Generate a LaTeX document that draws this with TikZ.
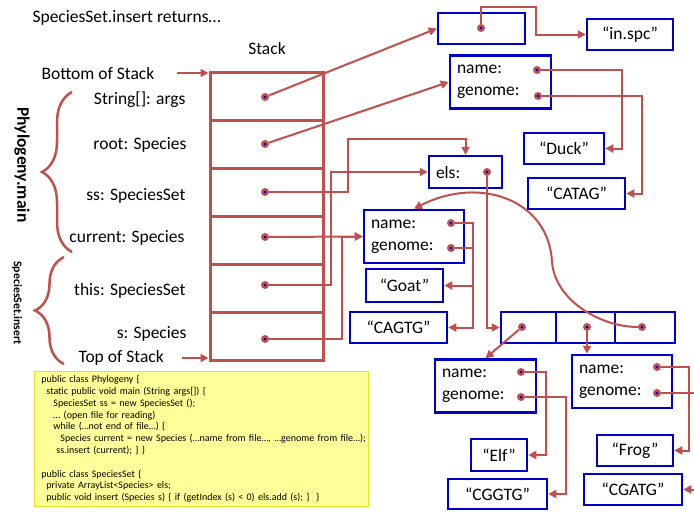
\documentclass[tikz,border=0pt]{standalone}
\usepackage{fontspec}
\setmainfont{Carlito}
\usetikzlibrary{arrows.meta,decorations.pathreplacing}

\definecolor{linkred}{RGB}{192,80,77}
\definecolor{objblue}{RGB}{0,0,204}
\definecolor{codefill}{RGB}{255,255,153}
\definecolor{codeedge}{RGB}{225,225,40}

\tikzset{
  stackcell/.style={rectangle, draw=linkred, line width=3pt, minimum width=113pt, minimum height=48pt},
  objbox/.style={rectangle, draw=objblue, line width=2.5pt, minimum height=31pt, inner sep=0pt},
  fieldbox/.style={rectangle, draw=objblue, line width=2.5pt, align=left, inner xsep=7pt, inner ysep=0pt, minimum height=53pt},
  ptr/.style={circle, fill=linkred, inner sep=0pt, minimum size=8pt,
    path picture={\fill[objblue] (path picture bounding box.center) circle (1.5pt);}},
  ref/.style={draw=linkred, line width=2pt, -{Triangle[length=8pt,width=8pt]}},
  stackbrace/.style={draw=linkred, line width=2.5pt, decorate, decoration={brace, amplitude=#1}},
  varlbl/.style={anchor=east}
}

\begin{document}
\begin{tikzpicture}[x=1pt, y=-1pt, font=\fontsize{17.5}{22}\selectfont]
  \useasboundingbox (0,0) rectangle (694,512);

  \node[anchor=west] (title) at (29,18) {SpeciesSet.insert returns…};
  \node (stacktitle) at (267,48) {Stack};

  % stack frames
  \node[stackcell] (cargs) at (266.5,96) {};
  \node[stackcell] (croot) at (266.5,144) {};
  \node[stackcell] (css) at (266.5,192) {};
  \node[stackcell] (ccur) at (266.5,240) {};
  \node[stackcell] (cthis) at (266.5,288) {};
  \node[stackcell] (cs) at (266.5,336) {};

  \node[varlbl] (largs) at (189,100) {String[]: args};
  \node[varlbl] (lroot) at (190,145) {root: Species};
  \node[varlbl] (lss) at (189,196) {ss: SpeciesSet};
  \node[varlbl] (lcur) at (188,238) {current: Species};
  \node[varlbl] (lthis) at (189,291) {this: SpeciesSet};
  \node[varlbl] (ls) at (190,334) {s: Species};

  \node[anchor=west] (bottom) at (38,73) {Bottom of Stack};
  \node[anchor=west] (top) at (75,358) {Top of Stack};
  \draw[ref, shorten <=19pt] (bottom.east) -- (bottom.east -| cargs.west);
  \draw[ref, shorten <=15pt] (top.east) -- (top.east -| cs.west);

  \draw[stackbrace=30pt] (72,252) -- (72,92);
  \draw[stackbrace=29pt] (64,364) -- (64,257);
  \node[rotate=-90, font=\fontsize{17.5}{20}\selectfont\bfseries] (mainlbl) at (22,165) {Phylogeny.main};
  \node[rotate=-90, font=\fontsize{11.8}{14}\selectfont\bfseries] (insertlbl) at (17,303) {SpeciesSet.insert};

  % heap objects
  \node[objbox, minimum width=87pt] (argsobj) at (481.5,28.5) {};
  \node[objbox, minimum width=86pt] (inspc) at (630,34.5) {“in.spc”};
  \node[fieldbox, text width=87pt] (rootobj) at (500.5,82) {name:\\genome:};
  \node[objbox, minimum width=80pt] (duck) at (564,148.5) {“Duck”};
  \node[objbox, minimum width=97pt] (catag) at (576.5,193.5) {“CATAG”};
  \node[objbox, minimum height=32pt, text width=59pt, inner xsep=7pt, align=left] (elsobj) at (465.5,172) {els:};

  \node[fieldbox, text width=86pt] (curobj) at (414,236.5) {name:\\genome:};
  \node[objbox, minimum width=77pt, minimum height=33pt] (goat) at (404.5,285.5) {“Goat”};
  \node[objbox, minimum width=97pt] (cagtg) at (398.5,327.5) {“CAGTG”};

  \node[objbox, minimum width=55pt] (arr1) at (528.5,327.5) {};
  \node[objbox, minimum width=59pt] (arr2) at (585.5,327.5) {};
  \node[objbox, minimum width=60pt] (arr3) at (645,327.5) {};

  \node[fieldbox, text width=87pt] (elfobj) at (485.5,386) {name:\\genome:};
  \node[objbox, minimum width=56pt, minimum height=32pt] (elf) at (499,455) {“Elf”};
  \node[objbox, minimum width=99pt, minimum height=30pt] (cggtg) at (497.5,494) {“CGGTG”};
  \node[fieldbox, text width=86pt] (frogobj) at (622,381.5) {name:\\genome:};
  \node[objbox, minimum width=76pt] (frog) at (635,450.5) {“Frog”};
  \node[objbox, minimum width=98pt] (cgatg) at (633,489.5) {“CGATG”};

  % pointers
  \node[ptr] (dargs) at (265,97) {};
  \node[ptr] (droot) at (265,144) {};
  \node[ptr] (dss) at (265,192) {};
  \node[ptr] (dcur) at (265,237) {};
  \node[ptr] (dthis) at (265,285) {};
  \node[ptr] (ds) at (265,339) {};
  \node[ptr] (argsptr) at (481,28) {};
  \node[ptr] (rootname) at (537,70) {};
  \node[ptr] (rootgenome) at (538,96) {};
  \node[ptr] (elsptr) at (487,172) {};
  \node[ptr] (curname) at (451,223) {};
  \node[ptr] (curgenome) at (451,248) {};
  \node[ptr] (arr1ptr) at (522,327) {};
  \node[ptr] (arr2ptr) at (587,327) {};
  \node[ptr] (arr3ptr) at (642,327) {};
  \node[ptr] (elfname) at (521,372) {};
  \node[ptr] (elfgenome) at (521,397) {};
  \node[ptr] (frogname) at (657,367) {};
  \node[ptr] (froggenome) at (657,393) {};

  \draw[ref] (dargs) -- (argsobj.west);
  \draw[ref] (droot) -- (rootobj.west);
  \draw[ref] (dss) -| (348,139) -| (elsobj.north);
  \draw[ref] (dcur) -- (curobj.west);
  \draw[ref] (dthis) -| (331,172) -- (elsobj.west);
  \draw[ref] (ds) -| (342,236.5) -- (curobj.west);
  \draw[ref] (argsptr) |- (536,7) |- (inspc.west);
  \draw[ref] (rootname) -| (622,148.5) -- (duck.east);
  \draw[ref] (rootgenome) -| (642,193.5) -- (catag.east);
  \draw[ref] (elsptr) |- (arr1.west);
  \draw[ref] (curname) -| (473,285.5) -- (goat.east);
  \draw[ref] (curgenome) -| (473,327.5) -- (cagtg.east);
  \draw[ref] (arr1ptr) -- (elfobj.north);
  \draw[ref] (arr2ptr) -- (arr2ptr |- frogobj.north);
  \draw[ref] (arr3ptr) .. controls (600,327) and (555,300) .. (552,262)
    .. controls (549,200) and (480,175) .. (curobj.north);
  \draw[ref] (elfname) -| (546,455) -- (elf.east);
  \draw[ref] (elfgenome) -| (566,494) -- (cggtg.east);
  \draw[ref] (frogname) -| (689,450.5) -- (frog.east);
  \draw[ref] (froggenome) -| (702,489.5) -- (cgatg.east);

  % source code
  \node[anchor=north west, fill=codefill, draw=codeedge, line width=1pt, text width=320pt,
    inner xsep=7pt, inner ysep=4pt, align=left, font=\fontsize{10}{11.8}\selectfont] (code) at (34,371) {
    public class Phylogeny \{\\
    \hspace*{5pt}static public void main (String args[]) \{\\
    \hspace*{12pt}SpeciesSet ss = new SpeciesSet ();\\
    \hspace*{12pt}… (open file for reading)\\
    \hspace*{12pt}while (…not end of file…) \{\\
    \hspace*{19pt}\mbox{Species current = new Species (…name from file…, …genome from file…);}\\
    \hspace*{15pt}ss.insert (current); \} \}\\[11.8pt]
    public class SpeciesSet \{\\
    \hspace*{5pt}private ArrayList<Species> els;\\
    \hspace*{5pt}\mbox{public void insert (Species s) \{ if (getIndex (s) < 0) els.add (s); \}\ \ \}}};
\end{tikzpicture}
\end{document}
